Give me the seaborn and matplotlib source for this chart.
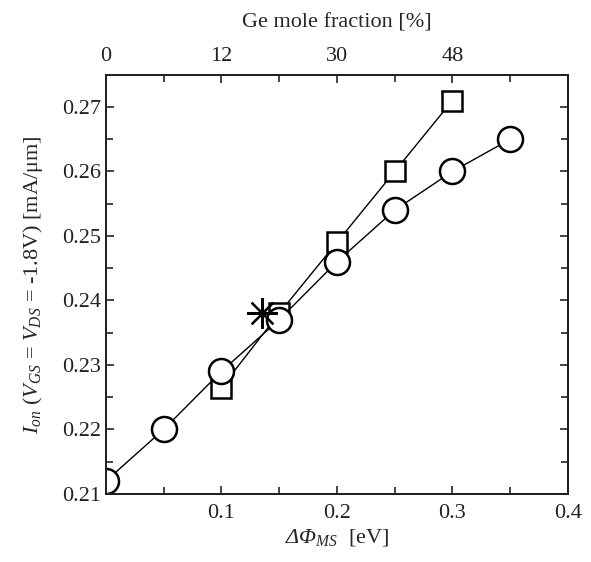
import numpy as np
import pandas as pd
import seaborn as sns
import matplotlib.pyplot as plt
from matplotlib.ticker import MultipleLocator, FixedLocator

# data
dphi_circle = [0.0, 0.05, 0.10, 0.15, 0.20, 0.25, 0.30, 0.35]
ion_circle = [0.212, 0.220, 0.229, 0.237, 0.246, 0.254, 0.260, 0.265]
dphi_square = [0.10, 0.15, 0.20, 0.25, 0.30]
ion_square = [0.2265, 0.238, 0.249, 0.260, 0.271]
dphi_star = [0.135]
ion_star = [0.238]
top_pos = [0.0, 0.1, 0.2, 0.3]
top_labels = ["0", "12", "30", "48"]

sns.set_style("ticks")
plt.rcParams['font.family'] = ['Liberation Serif', 'DejaVu Serif']
plt.rcParams['mathtext.fontset'] = 'custom'
plt.rcParams['mathtext.rm'] = 'Liberation Serif'
plt.rcParams['mathtext.it'] = 'Liberation Serif:italic'
# italic greek for the x label (mathtext keeps capital greek upright in "it")
plt.rcParams['mathtext.sf'] = 'Liberation Serif:italic'

fig = plt.figure(figsize=(5.91, 5.62), dpi=100)
ax = fig.add_axes([0.179, 0.121, 0.782, 0.746])

sq = pd.DataFrame({'x': dphi_square, 'y': ion_square})
ci = pd.DataFrame({'x': dphi_circle, 'y': ion_circle})

sns.lineplot(data=sq, x='x', y='y', ax=ax, color='black', lw=1.0,
             marker='s', markersize=15, markerfacecolor='white',
             markeredgecolor='black', markeredgewidth=1.8)
sns.lineplot(data=ci, x='x', y='y', ax=ax, color='black', lw=1.0,
             marker='o', markersize=18, markerfacecolor='white',
             markeredgecolor='black', markeredgewidth=1.8)
ax.plot(dphi_star, ion_star, linestyle='none', marker=(8, 2, 0),
        markersize=22, markeredgecolor='black', markeredgewidth=1.6)

ax.set_xlim(0, 0.4)
ax.set_ylim(0.21, 0.275)
ax.xaxis.set_major_locator(FixedLocator([0.1, 0.2, 0.3, 0.4]))
ax.xaxis.set_minor_locator(FixedLocator([0.0, 0.05, 0.15, 0.25, 0.35]))
ax.yaxis.set_major_locator(FixedLocator([0.21, 0.22, 0.23, 0.24, 0.25, 0.26, 0.27]))
ax.yaxis.set_minor_locator(MultipleLocator(0.005))
ax.set_yticklabels(["0.21", "0.22", "0.23", "0.24", "0.25", "0.26", "0.27"])
ax.set_xticklabels(["0.1", "0.2", "0.3", "0.4"])
ax.tick_params(which='both', direction='in', right=True, top=False,
               labelsize=16, width=1.2, colors='#222222')
ax.tick_params(axis='x', pad=7)
ax.tick_params(which='major', length=6)
ax.tick_params(which='minor', length=5)
for s in ax.spines.values():
    s.set_linewidth(1.4)
    s.set_color('#222222')

ax.set_xlabel(r"$\mathsf{\Delta\Phi}_{MS}$  [eV]", fontsize=16, labelpad=3)
ax.set_ylabel(r"$I_{on}$ ($V_{GS}$ = $V_{DS}$ = -1.8V) [mA/$\mathrm{\mu}$m]",
              fontsize=16, labelpad=12)

top = ax.twiny()
top.set_xlim(0, 0.4)
top.xaxis.set_major_locator(FixedLocator(top_pos))
top.xaxis.set_minor_locator(FixedLocator([0.05, 0.15, 0.25, 0.35]))
top.set_xticklabels(top_labels)
top.tick_params(which='both', direction='in', labelsize=16, width=1.2,
                colors='#222222', pad=6)
top.tick_params(which='major', length=6)
top.tick_params(which='minor', length=5)
top.set_xlabel("Ge mole fraction [%]", fontsize=16, labelpad=14)
for s in top.spines.values():
    s.set_linewidth(1.4)
    s.set_color('#222222')

fig.savefig("out.png", dpi=100)
